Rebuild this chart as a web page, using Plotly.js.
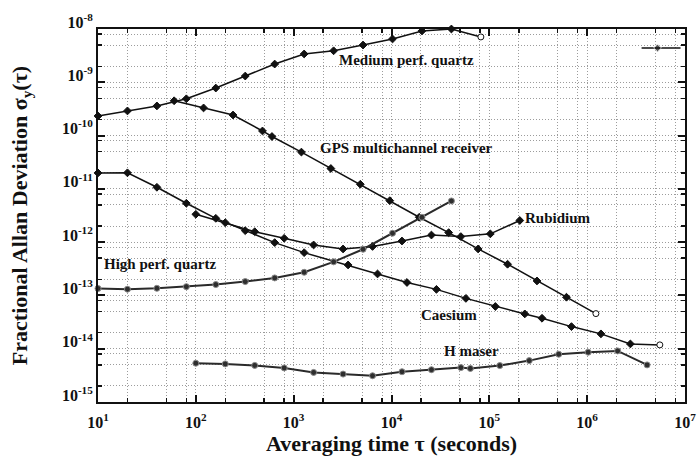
<!DOCTYPE html>
<html>
<head>
<meta charset="utf-8">
<script src="https://cdn.plot.ly/plotly-3.0.1.min.js"></script>
<style>
  html, body { margin: 0; padding: 0; background: #fff; }
  #chart { width: 698px; height: 459px; }
</style>
</head>
<body>
<div id="chart"></div>
<script>
// Allan deviation sigma_y(tau) of several frequency references
const mqTau   = [10, 20, 40, 80, 160, 320, 640, 1280, 2560, 5120, 10240, 20480, 40960, 81920];
const mqSigma = [2.33e-10, 2.9e-10, 3.6e-10, 4.9e-10, 7.8e-10, 1.31e-9, 2.2e-9, 3.4e-9, 3.9e-9, 5.0e-9, 6.5e-9, 9.2e-9, 1.0e-8, 7.1e-9];

const mqFarTau   = [3.6e6, 5.24e6, 9.0e6];
const mqFarSigma = [4.4e-9, 4.4e-9, 4.4e-9];

const gpsTau   = [60, 120, 240, 480, 600, 1200, 2400, 4800, 9600, 19200, 38400, 76800, 153600, 307200, 614400, 1228800];
const gpsSigma = [4.5e-10, 3.3e-10, 2.43e-10, 1.22e-10, 9.6e-11, 4.9e-11, 2.41e-11, 1.22e-11, 6.0e-12, 2.93e-12, 1.51e-12, 7.45e-13, 3.85e-13, 1.87e-13, 9.25e-14, 4.56e-14];

const csTau   = [10, 20, 40, 80, 160, 320, 640, 1280, 3600, 7200, 14400, 28800, 57600, 115200, 230400, 345600, 691200, 1382400, 2764800, 5529600];
const csSigma = [1.99e-11, 2.0e-11, 1.07e-11, 5.37e-12, 2.8e-12, 1.64e-12, 9.8e-13, 6.35e-13, 3.73e-13, 2.53e-13, 1.75e-13, 1.3e-13, 8.8e-14, 6.2e-14, 4.5e-14, 3.73e-14, 2.6e-14, 1.9e-14, 1.23e-14, 1.18e-14];

const rbTau   = [100, 200, 400, 800, 1600, 3200, 6400, 12800, 25600, 51200, 102400, 204800];
const rbSigma = [3.33e-12, 2.32e-12, 1.57e-12, 1.18e-12, 8.85e-13, 7.45e-13, 8.3e-13, 1.05e-12, 1.36e-12, 1.27e-12, 1.43e-12, 2.55e-12];

const hqTau   = [10, 20, 40, 80, 160, 320, 640, 1280, 2560, 5120, 10240, 20480, 40960];
const hqSigma = [1.35e-13, 1.31e-13, 1.36e-13, 1.46e-13, 1.6e-13, 1.82e-13, 2.13e-13, 2.72e-13, 4.27e-13, 7.36e-13, 1.47e-12, 2.93e-12, 5.93e-12];

const hmTau   = [100, 200, 400, 800, 1600, 3200, 6400, 12800, 25600, 51200, 64000, 128000, 256000, 512000, 1024000, 2048000, 4096000];
const hmSigma = [5.35e-15, 5.19e-15, 4.86e-15, 4.36e-15, 3.59e-15, 3.34e-15, 3.11e-15, 3.7e-15, 4.04e-15, 4.42e-15, 4.27e-15, 4.82e-15, 5.98e-15, 7.88e-15, 8.6e-15, 9.1e-15, 4.97e-15];

// axis ticks
const xTickVals = [1e1, 1e2, 1e3, 1e4, 1e5, 1e6, 1e7];
const xTickText = ['10<sup>1</sup>', '10<sup>2</sup>', '10<sup>3</sup>', '10<sup>4</sup>', '10<sup>5</sup>', '10<sup>6</sup>', '10<sup>7</sup>'];
const yTickVals = [1e-15, 1e-14, 1e-13, 1e-12, 1e-11, 1e-10, 1e-9, 1e-8];
const yTickText = ['10<sup>-15</sup>', '10<sup>-14</sup>', '10<sup>-13</sup>', '10<sup>-12</sup>', '10<sup>-11</sup>', '10<sup>-10</sup>', '10<sup>-9</sup>', '10<sup>-8</sup>'];
const minorMantissas = [2, 5, 8];

const curveLabels = [
  { text: 'Medium perf. quartz',        tau: 1.41e4, sigma: 2.6e-9 },
  { text: 'GPS multichannel receiver',  tau: 1.41e4, sigma: 5.85e-11 },
  { text: 'Rubidium',                   tau: 5.05e5, sigma: 2.84e-12 },
  { text: 'High perf. quartz',          tau: 43,     sigma: 3.9e-13 },
  { text: 'Caesium',                    tau: 3.88e4, sigma: 4.3e-14 },
  { text: 'H maser',                    tau: 6.5e4,  sigma: 9.1e-15 }
];

function minorVals(loExp, hiExp) {
  const out = [];
  for (let e = loExp; e < hiExp; e++) {
    minorMantissas.forEach(m => out.push(m * Math.pow(10, e)));
  }
  return out;
}

const SERIF = 'Liberation Serif, Times New Roman, serif';

function curve(x, y, opts) {
  const n = x.length;
  const openEnd = opts.openEnd;
  const fill = x.map((_, i) => (openEnd && i === n - 1) ? '#ffffff' : opts.fill);
  const sym = x.map((_, i) => (openEnd && i === n - 1) ? 'circle' : opts.symbol);
  return {
    x: x, y: y, type: 'scatter', mode: 'lines+markers',
    cliponaxis: false,
    line: { color: opts.lineColor, width: opts.lineWidth },
    marker: {
      symbol: sym, size: opts.size, color: fill,
      line: { color: opts.edge, width: opts.edgeWidth }
    },
    hoverinfo: 'skip', showlegend: false
  };
}

const dark = { lineColor: '#111', lineWidth: 1.5, symbol: 'diamond', size: 6, fill: '#111', edge: '#111', edgeWidth: 1 };
const grey = { lineColor: '#2a2a2a', lineWidth: 2, symbol: 'circle', size: 6, fill: '#2e2e2e', edge: '#8a8a8a', edgeWidth: 1 };

const traces = [
  curve(mqTau, mqSigma, Object.assign({}, dark, { openEnd: true })),
  {
    x: mqFarTau, y: mqFarSigma, type: 'scatter', mode: 'lines+markers',
    line: { color: '#111', width: 1.5 },
    marker: { symbol: 'diamond', size: mqFarTau.map((_, i) => i === 1 ? 6 : 0), color: '#111' },
    hoverinfo: 'skip', showlegend: false
  },
  curve(gpsTau, gpsSigma, Object.assign({}, dark, { openEnd: true })),
  curve(csTau, csSigma, Object.assign({}, dark, { openEnd: true })),
  curve(rbTau, rbSigma, Object.assign({}, dark, { openEnd: false })),
  curve(hqTau, hqSigma, Object.assign({}, grey, { openEnd: false })),
  curve(hmTau, hmSigma, Object.assign({}, grey, { openEnd: false }))
];

const gridStyle = { gridcolor: '#9c9c9c', griddash: '1px,2px', gridwidth: 1 };

const layout = {
  width: 698, height: 459,
  margin: { l: 98, r: 13, t: 29, b: 57 },
  paper_bgcolor: '#ffffff', plot_bgcolor: '#ffffff',
  font: { family: SERIF, color: '#111' },
  xaxis: Object.assign({
    type: 'log', range: [1, 7],
    tickmode: 'array', tickvals: xTickVals, ticktext: xTickText,
    tickfont: { family: SERIF, size: 16, weight: 'bold', color: '#111' },
    ticklabelstandoff: 5,
    ticks: 'inside', ticklen: 7, tickwidth: 2, tickcolor: '#111',
    showline: true, linecolor: '#111', linewidth: 2, mirror: 'ticks',
    showgrid: true, zeroline: false,
    minor: Object.assign({ tickmode: 'array', tickvals: minorVals(1, 7), ticks: 'inside', ticklen: 4, tickwidth: 1.5, tickcolor: '#111', showgrid: true }, gridStyle),
    title: { text: 'Averaging time τ (seconds)', font: { family: SERIF, size: 22, weight: 'bold', color: '#111' }, standoff: 4 },
    automargin: false
  }, gridStyle),
  yaxis: Object.assign({
    type: 'log', range: [-15, -8],
    tickmode: 'array', tickvals: yTickVals, ticktext: yTickText,
    tickfont: { family: SERIF, size: 16, weight: 'bold', color: '#111' },
    ticklabelshift: -7,
    ticks: 'inside', ticklen: 7, tickwidth: 2, tickcolor: '#111',
    showline: true, linecolor: '#111', linewidth: 2, mirror: 'ticks',
    showgrid: true, zeroline: false,
    minor: Object.assign({ tickmode: 'array', tickvals: minorVals(-15, -8), ticks: 'inside', ticklen: 4, tickwidth: 1.5, tickcolor: '#111', showgrid: true }, gridStyle),
    title: { text: 'Fractional Allan Deviation σ<sub>y</sub>(τ)', font: { family: SERIF, size: 22, weight: 'bold', color: '#111' }, standoff: 28 },
    automargin: false
  }, gridStyle),
  annotations: curveLabels.map(l => ({
    x: Math.log10(l.tau), y: Math.log10(l.sigma), xref: 'x', yref: 'y',
    text: l.text, showarrow: false,
    font: { family: SERIF, size: 15, weight: 'bold', color: '#111' }
  }))
};

Plotly.newPlot('chart', traces, layout, { staticPlot: true, displayModeBar: false });
</script>
</body>
</html>
